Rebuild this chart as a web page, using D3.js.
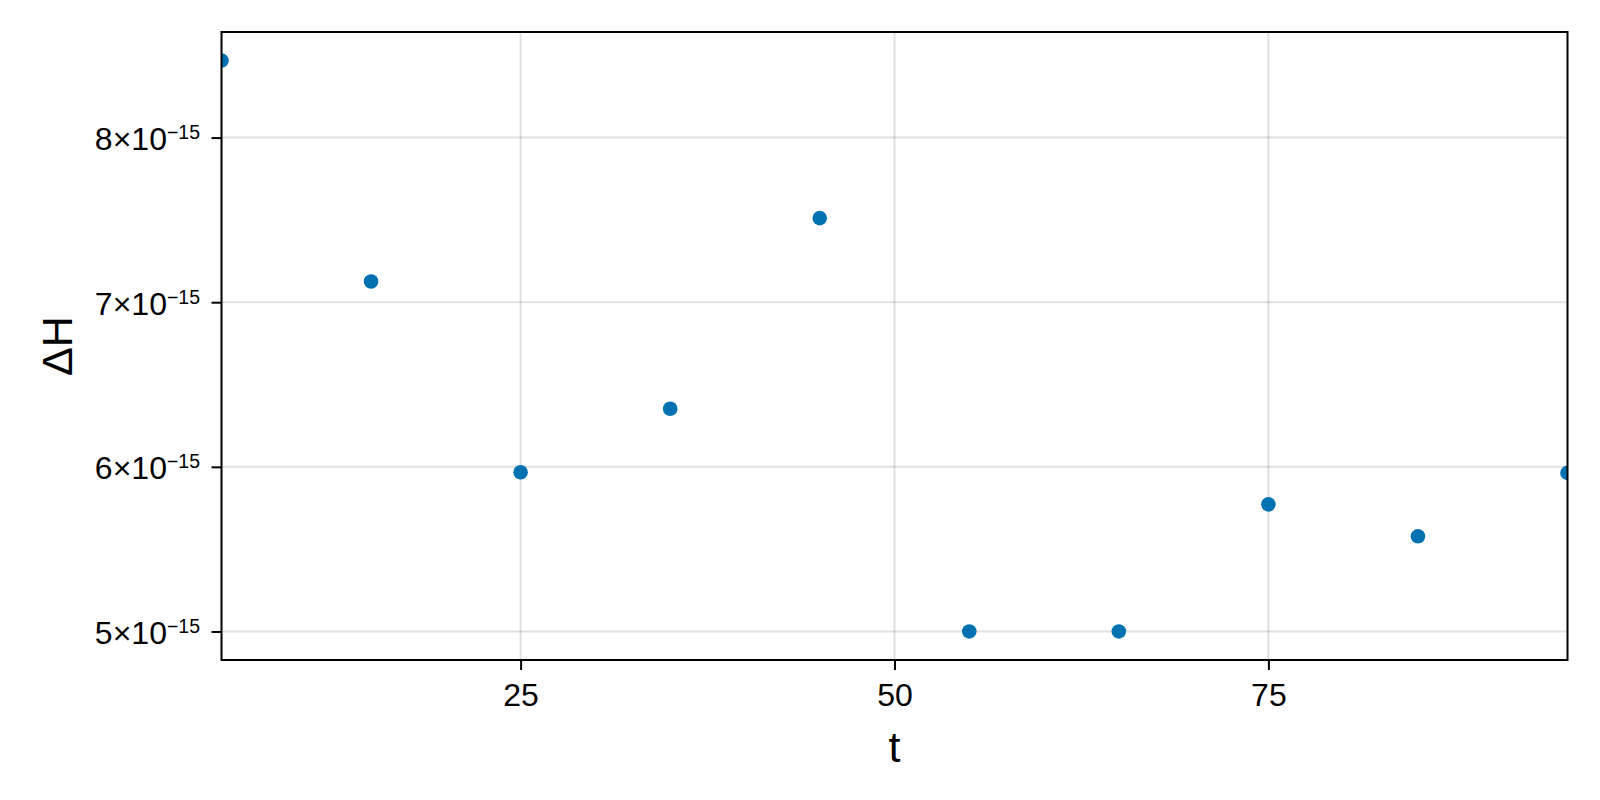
<!DOCTYPE html>
<html>
<head>
<meta charset="utf-8">
<script type="text/javascript" src="https://cdn.jsdelivr.net/npm/d3@7/dist/d3.min.js"></script>
<style>
	body { margin: 0; background: #fff; }
	svg text { font-family: "Liberation Sans", Arial, sans-serif; fill: #000; }
</style>
</head>
<body>
<div id="chart"></div>
<script type="text/javascript">
// values
var t = [5, 15, 25, 35, 45, 55, 65, 75, 85, 95];
var dH = [8.468e-15, 7.126e-15, 5.967e-15, 6.353e-15, 7.511e-15,
          5.0e-15, 5.0e-15, 5.772e-15, 5.578e-15, 5.963e-15];

var xTicks = [25, 50, 75];
var yTicks = [5e-15, 6e-15, 7e-15, 8e-15];
var yTickExp = "\u221215";

var w = 1600,
	h = 800,
	plotL = 221.5,
	plotR = 1567.5,
	plotT = 32,
	plotB = 660;

var svg = d3.select("#chart")
	.append("svg")
	.attr("width", w)
	.attr("height", h);

var x = d3.scaleLinear().domain([5, 95]).range([plotL, plotR]);

// 5% padding like the original plot's autolimits
var ext = d3.extent(dH),
	pad = (ext[1] - ext[0]) * 0.05;
var y = d3.scaleLinear().domain([ext[0] - pad, ext[1] + pad]).range([plotB, plotT]);

// grid
svg.append("g").selectAll("line")
	.data(xTicks)
	.enter().append("line")
	.attr("x1", function(d) {return x(d)})
	.attr("x2", function(d) {return x(d)})
	.attr("y1", plotT)
	.attr("y2", plotB)
	.style("stroke", "rgba(0,0,0,0.12)")
	.style("stroke-width", 2);

svg.append("g").selectAll("line")
	.data(yTicks)
	.enter().append("line")
	.attr("x1", plotL)
	.attr("x2", plotR)
	.attr("y1", function(d) {return y(d)})
	.attr("y2", function(d) {return y(d)})
	.style("stroke", "rgba(0,0,0,0.12)")
	.style("stroke-width", 2);

// points, clipped to the plot box
svg.append("clipPath").attr("id", "box")
	.append("rect")
	.attr("x", plotL).attr("y", plotT)
	.attr("width", plotR - plotL).attr("height", plotB - plotT);

svg.append("g")
	.attr("clip-path", "url(#box)")
	.selectAll("circle")
	.data(t)
	.enter().append("circle")
	.attr("cx", function(d) {return x(d)})
	.attr("cy", function(d, i) {return y(dH[i])})
	.attr("r", 7.3)
	.style("fill", "#0072b2");

// axes
var xAxis = svg.append("g")
	.attr("transform", "translate(0," + plotB + ")")
	.call(d3.axisBottom(x).tickValues(xTicks).tickSize(10).tickPadding(13.3));

var yAxis = svg.append("g")
	.attr("transform", "translate(" + plotL + ",0)")
	.call(d3.axisLeft(y).tickValues(yTicks).tickSize(10).tickPadding(11.5).tickFormat(""));

[xAxis, yAxis].forEach(function(a) {
	a.attr("font-size", null).attr("font-family", null);
	a.select(".domain").remove();
	a.selectAll(".tick line").style("stroke", "#000").style("stroke-width", 2);
	a.selectAll(".tick text").style("font-size", "32px");
});

yAxis.selectAll(".tick text")
	.attr("dy", "0.375em")
	.each(function(d) {
		var txt = d3.select(this);
		txt.append("tspan").text(Math.round(d / 1e-15) + "\u00d710");
		txt.append("tspan").text(yTickExp).style("font-size", "19.5px").attr("dy", -11);
	});

// frame
svg.append("rect")
	.attr("x", plotL).attr("y", plotT)
	.attr("width", plotR - plotL).attr("height", plotB - plotT)
	.style("fill", "none")
	.style("stroke", "#000")
	.style("stroke-width", 2);

// labels
svg.append("text")
	.attr("x", (plotL + plotR) / 2)
	.attr("y", 762)
	.attr("text-anchor", "middle")
	.style("font-size", "43px")
	.text("t");

svg.append("text")
	.attr("transform", "translate(71.5," + (plotT + plotB) / 2 + ") rotate(-90)")
	.attr("text-anchor", "middle")
	.style("font-size", "43px")
	.text("\u0394H");
</script>
</body>
</html>
